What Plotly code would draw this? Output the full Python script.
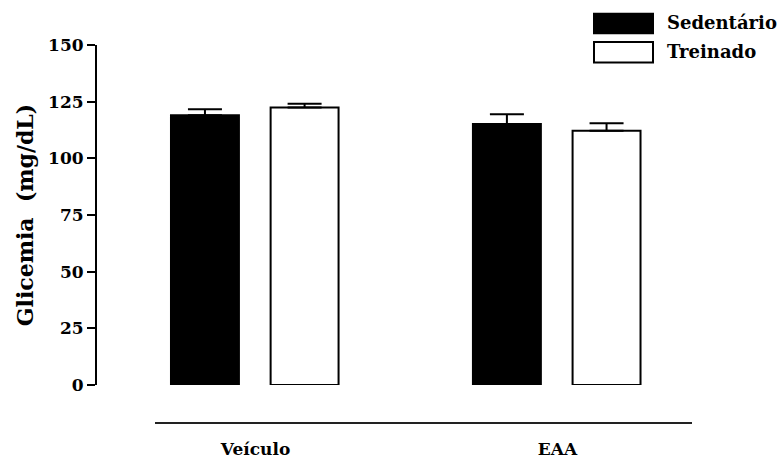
import plotly.graph_objects as go

# Glicemia por grupo (média + erro padrão)
grupos = ["Veículo", "EAA"]
sedentario = [119.0, 115.2]
sedentario_ep = [2.6, 4.3]
treinado = [122.4, 112.2]
treinado_ep = [1.7, 3.3]
y_ticks = [0, 25, 50, 75, 100, 125, 150]

W, H = 783, 471
L, R, T, B = 97, 83, 45, 78
PW, PH = W - L - R, H - T - B


def px_x(x):
    return (x - L) / PW


def px_y(y):
    return (H - B - y) / PH


FONT = "DejaVu Serif"

fig = go.Figure()
fig.add_trace(go.Bar(
    x=grupos, y=sedentario, name="Sedentário",
    width=0.225, offset=-0.28,
    marker=dict(color="black", line=dict(color="black", width=2)),
    error_y=dict(type="data", symmetric=False, array=sedentario_ep,
                 arrayminus=[0] * len(sedentario), color="black",
                 thickness=2, width=17),
    showlegend=False,
))
fig.add_trace(go.Bar(
    x=grupos, y=treinado, name="Treinado",
    width=0.225, offset=0.05,
    marker=dict(color="white", line=dict(color="black", width=2)),
    error_y=dict(type="data", symmetric=False, array=treinado_ep,
                 arrayminus=[0] * len(treinado), color="black",
                 thickness=2, width=17),
    showlegend=False,
))

# horizontal rule under the groups
fig.add_shape(type="line", xref="paper", yref="paper",
              x0=px_x(155), x1=px_x(692), y0=px_y(432), y1=px_y(432),
              line=dict(color="#222", width=2))

# legend swatches and labels
fig.add_shape(type="rect", xref="paper", yref="paper",
              x0=px_x(594), x1=px_x(653), y0=px_y(33), y1=px_y(13),
              fillcolor="black", line=dict(color="black", width=2))
fig.add_shape(type="rect", xref="paper", yref="paper",
              x0=px_x(594), x1=px_x(653), y0=px_y(63), y1=px_y(42),
              fillcolor="white", line=dict(color="black", width=2))
for txt, yy in [("Sedentário", 22), ("Treinado", 52)]:
    fig.add_annotation(text=txt, xref="paper", yref="paper",
                       x=px_x(665), y=px_y(yy), xanchor="left", yanchor="middle",
                       showarrow=False,
                       font=dict(family=FONT, size=18, color="black", weight="bold"))

fig.update_layout(
    width=W, height=H,
    margin=dict(l=L, r=R, t=T, b=B, pad=0),
    paper_bgcolor="white", plot_bgcolor="white",
    barmode="overlay",
    font=dict(family=FONT, color="black"),
    xaxis=dict(
        type="category", range=[-0.525, 1.472],
        showline=False, showgrid=False, zeroline=False, ticks="",
        ticklabelstandoff=52,
        tickfont=dict(family=FONT, size=17, color="black", weight="bold"),
    ),
    yaxis=dict(
        range=[0, 150], tickvals=y_ticks,
        showline=True, linecolor="black", linewidth=2,
        ticks="outside", ticklen=8, tickwidth=2, tickcolor="black",
        showgrid=False, zeroline=False,
        tickfont=dict(family=FONT, size=17, color="black", weight="bold"),
        title=dict(text="Glicemia  (mg/dL)", standoff=8,
                   font=dict(family=FONT, size=22, color="black", weight="bold")),
    ),
)

fig.write_html("out.html")
